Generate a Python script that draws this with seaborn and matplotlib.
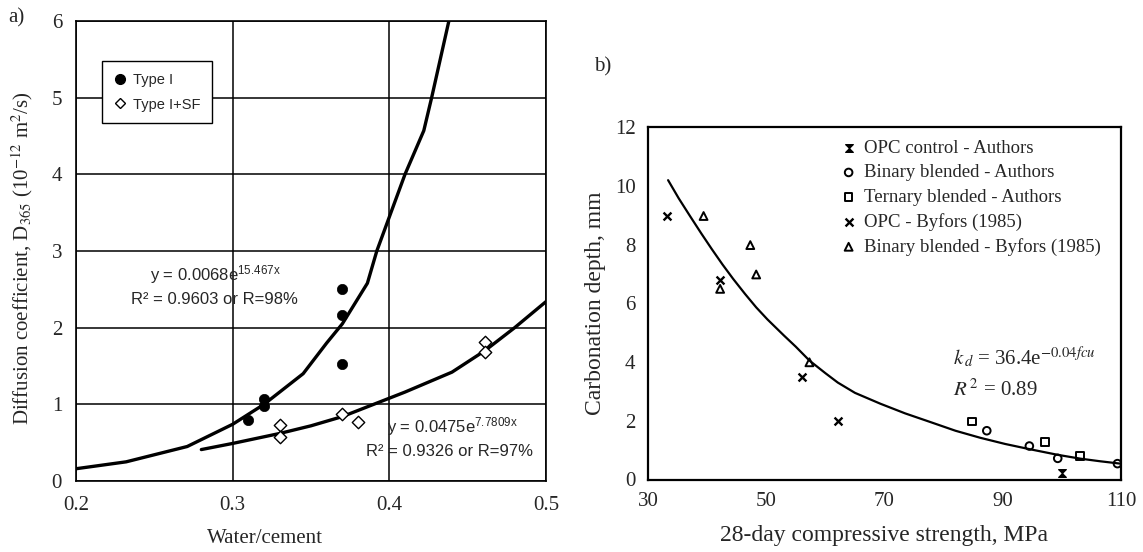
import numpy as np
import pandas as pd
import matplotlib
matplotlib.use("Agg")
import matplotlib.pyplot as plt
import seaborn as sns
from matplotlib.lines import Line2D
from matplotlib.ticker import MultipleLocator

# ---------------- Panel a data ----------------
type1_wc = [0.31, 0.32, 0.32, 0.37, 0.37, 0.37]
type1_D = [0.79, 1.07, 0.98, 2.51, 2.16, 1.52]
sf_wc = [0.33, 0.33, 0.37, 0.38, 0.461, 0.461]
sf_D = [0.73, 0.57, 0.88, 0.77, 1.81, 1.68]
type1_fit_wc = [0.200, 0.232, 0.271, 0.300, 0.320, 0.345, 0.360, 0.370, 0.386, 0.392, 0.410, 0.422, 0.427, 0.438]
type1_fit_D = [0.16, 0.25, 0.45, 0.74, 1.00, 1.40, 1.80, 2.05, 2.58, 3.00, 4.00, 4.57, 5.00, 6.00]
sf_fit_wc = [0.280, 0.300, 0.330, 0.350, 0.370, 0.390, 0.410, 0.440, 0.461, 0.480, 0.500]
sf_fit_D = [0.41, 0.49, 0.62, 0.72, 0.84, 1.00, 1.16, 1.42, 1.70, 2.00, 2.34]
a_xticks = [0.2, 0.3, 0.4, 0.5]
a_xticklabels = ["0.2", "0.3", "0.4", "0.5"]
a_yticks = [0, 1, 2, 3, 4, 5, 6]

# ---------------- Panel b data ----------------
opc_ctrl_fcu = [100.0]
opc_ctrl_cd = [0.22]
bin_auth_fcu = [87.3, 94.5, 99.3, 109.4]
bin_auth_cd = [1.66, 1.14, 0.72, 0.54]
ter_auth_fcu = [84.8, 97.1, 103.1]
ter_auth_cd = [1.98, 1.27, 0.81]
opc_byf_fcu = [33.2, 42.2, 56.1, 62.1]
opc_byf_cd = [8.97, 6.78, 3.49, 1.98]
bin_byf_fcu = [39.4, 47.3, 48.3, 42.2, 57.3]
bin_byf_cd = [8.97, 7.98, 6.98, 6.49, 3.99]
fit_fcu = [33.4, 35.2, 37.1, 39.0, 40.8, 42.6, 44.4, 46.4, 48.3, 50.2, 53.0, 55.0, 57.3,
           60.0, 62.1, 65.0, 69.3, 73.5, 77.7, 82.0, 86.2, 90.4, 94.6, 99.3, 103.1, 106.5, 109.9]
fit_cd = [10.19, 9.57, 8.97, 8.38, 7.84, 7.32, 6.83, 6.32, 5.86, 5.45, 4.90, 4.52, 4.05,
          3.62, 3.30, 2.95, 2.58, 2.25, 1.96, 1.66, 1.42, 1.21, 1.03, 0.84, 0.71, 0.62, 0.54]
b_xticks = [30, 50, 70, 90, 110]
b_yticks = [0, 2, 4, 6, 8, 10, 12]

sns.set_style("white")
plt.rcParams["font.family"] = ["Liberation Serif", "DejaVu Serif"]
plt.rcParams["mathtext.fontset"] = "custom"
plt.rcParams["mathtext.rm"] = "Liberation Sans"
plt.rcParams["mathtext.it"] = "Liberation Sans:italic"
plt.rcParams["mathtext.bf"] = "Liberation Sans:bold"

fig = plt.figure(figsize=(11.43, 5.52), dpi=100)
axA = fig.add_axes([76 / 1143, 1 - 481 / 552, 470 / 1143, 460 / 552])
axB = fig.add_axes([648 / 1143, 1 - 479.5 / 552, 473 / 1143, 352.5 / 552])

sans = ["Liberation Sans", "DejaVu Sans"]

# ---------------- Panel a ----------------
axA.set_axisbelow(True)
sns.lineplot(x=type1_fit_wc, y=type1_fit_D, ax=axA, color="black", lw=2.4,
             sort=False, estimator=None, zorder=3)
sns.lineplot(x=sf_fit_wc, y=sf_fit_D, ax=axA, color="black", lw=2.4,
             sort=False, estimator=None, zorder=3)
sns.scatterplot(x=type1_wc, y=type1_D, ax=axA, marker="o", s=55,
                color="black", edgecolor="black", linewidth=0.5, zorder=4)
sns.scatterplot(x=sf_wc, y=sf_D, ax=axA, marker="D", s=40,
                facecolor="white", edgecolor="black", linewidth=1.0, zorder=4)
axA.set_xlim(0.2, 0.5)
axA.set_ylim(0, 6)
axA.set_xticks(a_xticks)
axA.set_xticklabels(a_xticklabels)
axA.set_yticks(a_yticks)
axA.xaxis.set_minor_locator(MultipleLocator(0.05))
axA.yaxis.set_minor_locator(MultipleLocator(0.5))
axA.grid(True, which="major", color="black", linewidth=1.1)
axA.tick_params(which="major", direction="out", length=4, width=1, color="black",
                labelsize=15, pad=6)
axA.tick_params(which="minor", direction="in", length=3, width=0.8, color="#555555")
axA.tick_params(axis="x", which="major", pad=7)
for sp in axA.spines.values():
    sp.set_color("black")
    sp.set_linewidth(1.2)
axA.set_xlabel("Water/cement", fontsize=15)
axA.xaxis.set_label_coords((265 - 76) / 470, -0.105)
axA.set_ylabel(r"Diffusion coefficient, D$_{365}$ (10$^{-12}$ m$^{2}$/s)", fontsize=15,
               math_fontfamily="stix")
axA.yaxis.set_label_coords(-0.088, (481 - 258) / 460)

hA = [Line2D([], [], marker="o", ls="none", color="black", markersize=7),
      Line2D([], [], marker="D", ls="none", markerfacecolor="white",
             markeredgecolor="black", markersize=5.5, markeredgewidth=1.0)]
legA = axA.legend(hA, ["Type I", "Type I+SF"], loc="upper left",
                  bbox_to_anchor=((102 - 76) / 470, (481 - 61) / 460),
                  prop={"family": sans, "size": 10.5}, frameon=True, fancybox=False,
                  edgecolor="black", framealpha=1, handlelength=0.8, handletextpad=0.5,
                  borderpad=0.8, labelspacing=0.75, borderaxespad=0)
legA.get_frame().set_linewidth(1.0)
legA.set_zorder(5)

axA.text((215 - 76) / 470, (481 - 275) / 460,
         r"y = 0.0068e$^{\mathrm{15.467x}}$", transform=axA.transAxes,
         ha="center", va="center", fontsize=12, family=sans, zorder=6)
axA.text((214 - 76) / 470, (481 - 300) / 460, "R² = 0.9603 or R=98%",
         transform=axA.transAxes, ha="center", va="center", fontsize=12,
         family=sans, zorder=6)
axA.text((452 - 76) / 470, (481 - 427) / 460, r"y = 0.0475e$^{\mathrm{7.7809x}}$",
         transform=axA.transAxes, ha="center", va="center", fontsize=12,
         family=sans, zorder=6)
axA.text((450 - 76) / 470, (481 - 452) / 460, "R² = 0.9326 or R=97%",
         transform=axA.transAxes, ha="center", va="center", fontsize=12,
         family=sans, zorder=6)

fig.text(8 / 1143, 1 - 18 / 552, "a)", fontsize=15, ha="left", va="center")

# ---------------- Panel b ----------------
hourglass = [(-1, 1), (1, 1), (-1, -1), (1, -1), (-1, 1)]
sns.lineplot(x=fit_fcu, y=fit_cd, ax=axB, color="black", lw=1.6,
             sort=False, estimator=None, zorder=2)
sns.scatterplot(x=opc_ctrl_fcu, y=opc_ctrl_cd, ax=axB, marker=hourglass, s=32,
                color="black", edgecolor="black", linewidth=0.8, zorder=3,
                label="OPC control - Authors")
sns.scatterplot(x=bin_auth_fcu, y=bin_auth_cd, ax=axB, marker="o", s=30,
                facecolor="none", edgecolor="black", linewidth=1.4, zorder=3,
                label="Binary blended - Authors")
sns.scatterplot(x=ter_auth_fcu, y=ter_auth_cd, ax=axB, marker="s", s=30,
                facecolor="none", edgecolor="black", linewidth=1.4, zorder=3,
                label="Ternary blended - Authors")
sns.scatterplot(x=opc_byf_fcu, y=opc_byf_cd, ax=axB, marker="x", s=32,
                color="black", linewidth=1.7, zorder=3,
                label="OPC - Byfors (1985)")
sns.scatterplot(x=bin_byf_fcu, y=bin_byf_cd, ax=axB, marker="^", s=32,
                facecolor="none", edgecolor="black", linewidth=1.4, zorder=3,
                label="Binary blended - Byfors (1985)")
axB.set_xlim(30, 110)
axB.set_ylim(0, 12)
axB.set_xticks(b_xticks)
axB.set_yticks(b_yticks)
axB.tick_params(direction="in", length=4, width=0.8, color="#888888",
                labelsize=15, pad=9)
for sp in axB.spines.values():
    sp.set_color("black")
    sp.set_linewidth(1.6)
axB.set_xlabel("28-day compressive strength, MPa", fontsize=17, labelpad=10)
axB.set_ylabel("Carbonation depth, mm", fontsize=17, labelpad=6)
legB = axB.legend(loc="upper left", bbox_to_anchor=((843 - 648) / 473, (479.5 - 140) / 352.5),
                  frameon=False, fontsize=13.5, handlelength=0.6, handletextpad=0.5,
                  labelspacing=0.38, borderpad=0, borderaxespad=0, markerscale=1.0)

axB.text((953 - 648) / 473, (479.5 - 357) / 352.5, r"$k_{\,d}$ = 36.4e$^{-0.04\mathit{fcu}}$",
         transform=axB.transAxes, fontsize=15, ha="left", va="center",
         math_fontfamily="stix")
axB.text((953 - 648) / 473, (479.5 - 390) / 352.5, r"$R^{\,2}$ = 0.89",
         transform=axB.transAxes, fontsize=15, ha="left", va="center",
         math_fontfamily="stix")
fig.text(603 / 1143, 1 - 67 / 552, "b)", fontsize=15, ha="center", va="center")

fig.savefig("out.png", dpi=100)
